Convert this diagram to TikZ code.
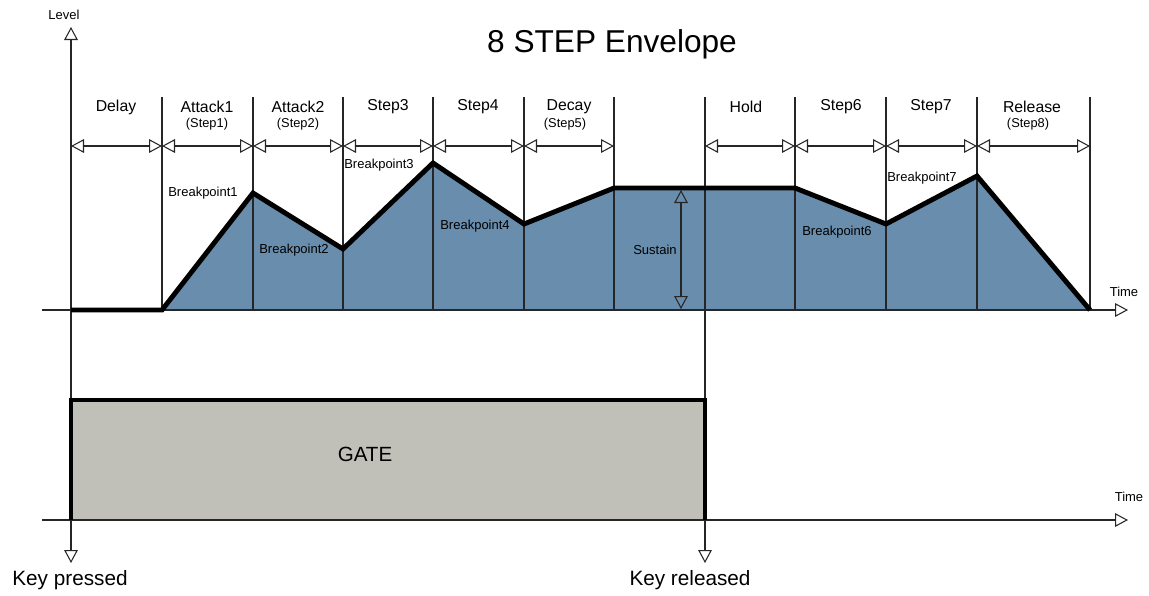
\documentclass[tikz,border=0pt]{standalone}
\usepackage{fontspec}
\setmainfont{Liberation Sans}
\usetikzlibrary{arrows.meta}
\definecolor{envblue}{RGB}{104,141,173}
\definecolor{gategray}{RGB}{192,192,184}
\tikzset{
  thinline/.style={line width=0.6pt, black!85},
  envline/.style={line width=2.8pt, line join=miter},
  gateline/.style={line width=2.8pt, line join=miter},
  steplabel/.style={font=\fontsize{9}{10}\selectfont},
  sublabel/.style={font=\fontsize{7.3}{8}\selectfont},
  bplabel/.style={font=\fontsize{7.4}{8}\selectfont},
  axislabel/.style={font=\fontsize{7.4}{8}\selectfont},
  keylabel/.style={font=\fontsize{11.8}{13}\selectfont}
}

\begin{document}
\begin{tikzpicture}[x=0.02cm, y=-0.02cm,
  >={Triangle[open,length=7.4pt,width=7.8pt]}]
\useasboundingbox (0,0) rectangle (1149,595);
% Title
\node[font=\fontsize{18}{20}\selectfont] (title) at (612,44) {8 STEP Envelope};
% Grid positions: top, dimension line, base
\foreach \n/\x in {0/71,1/162,2/253,3/343,4/433,5/524,6/614,7/705,8/795,9/886,10/977,11/1090} {
  \coordinate (t\n) at (\x,97);
  \coordinate (d\n) at (\x,146);
  \coordinate (b\n) at (\x,310);
}
% Breakpoints of the envelope
\coordinate (p1) at (253,193);
\coordinate (p2) at (343,249);
\coordinate (p3) at (433,163);
\coordinate (p4) at (524,224);
\coordinate (p5) at (614,188);
\coordinate (p6) at (795,188);
\coordinate (p7) at (886,224);
\coordinate (p8) at (977,176);
% Filled area under the envelope
\fill[envblue] (b1) -- (p1) -- (p2) -- (p3) -- (p4) -- (p5) -- (p6) -- (p7) -- (p8) -- (b11) -- cycle;
% Gate block
\coordinate (g1) at (71,400);
\coordinate (g2) at (705,400);
\coordinate (g3) at (705,520);
\coordinate (g4) at (71,520);
\fill[gategray] (g1) rectangle (g3);
% Vertical step lines
\foreach \n in {1,2,3,4,5,6,8,9,10,11}
  \draw[thinline] (t\n) -- (b\n);
% Level axis and key markers
\coordinate (lvtop) at (71,27);
\coordinate (kp) at (71,563);
\coordinate (kr) at (705,563);
\draw[thinline, <->] (kp) -- (lvtop);
\draw[thinline, ->] (t7) -- (kr);
% Time axes
\coordinate (e0) at (42,310);
\coordinate (e1) at (1128,310);
\coordinate (h0) at (42,520);
\coordinate (h1) at (1128,520);
\draw[thinline, ->] (e0) -- (e1);
\draw[thinline, ->] (h0) -- (h1);
% Step durations
\foreach \a/\b in {0/1,1/2,2/3,3/4,4/5,5/6,7/8,8/9,9/10,10/11}
  \draw[thinline, <->] (d\a) -- (d\b);
% Sustain level
\coordinate (s0) at (681,190);
\coordinate (s1) at (681,309);
\draw[thinline, <->] (s1) -- (s0);
% Envelope curve
\draw[envline] (b0) -- (b1) -- (p1) -- (p2) -- (p3) -- (p4) -- (p5) -- (p6) -- (p7) -- (p8) -- (b11);
% Gate outline
\draw[gateline] (g4) -- (g1) -- (g2) -- (g3);
% Step labels
\node[steplabel] (delay) at (116,107) {Delay};
\node[steplabel] (attack1) at (207,107) {Attack1};
\node[sublabel] (step1) at (207,124) {(Step1)};
\node[steplabel] (attack2) at (298,107) {Attack2};
\node[sublabel] (step2) at (298,124) {(Step2)};
\node[steplabel] (step3) at (388,107) {Step3};
\node[steplabel] (step4) at (478,107) {Step4};
\node[steplabel] (decay) at (569,107) {Decay};
\node[sublabel] (step5) at (565,124) {(Step5)};
\node[steplabel] (hold) at (746,107) {Hold};
\node[steplabel] (step6) at (841,107) {Step6};
\node[steplabel] (step7) at (931,107) {Step7};
\node[steplabel] (release) at (1032,107) {Release};
\node[sublabel] (step8) at (1028,124) {(Step8)};
% Breakpoint labels
\node[bplabel] (bp1) at (203,193) {Breakpoint1};
\node[bplabel] (bp2) at (294,250) {Breakpoint2};
\node[bplabel] (bp3) at (379,165) {Breakpoint3};
\node[bplabel] (bp4) at (475,226) {Breakpoint4};
\node[bplabel] (bp6) at (837,232) {Breakpoint6};
\node[bplabel] (bp7) at (922,178) {Breakpoint7};
\node[bplabel] (sustain) at (655,250) {Sustain};
% Axis labels
\node[axislabel] (level) at (64,15) {Level};
\node[axislabel] (time1) at (1124,292) {Time};
\node[axislabel] (time2) at (1129,497) {Time};
% Gate and key labels
\node[font=\fontsize{11.7}{13}\selectfont] (gate) at (365,454) {GATE};
\node[keylabel] (kpress) at (70,580) {Key pressed};
\node[keylabel] (krel) at (690,580) {Key released};
\end{tikzpicture}
\end{document}
